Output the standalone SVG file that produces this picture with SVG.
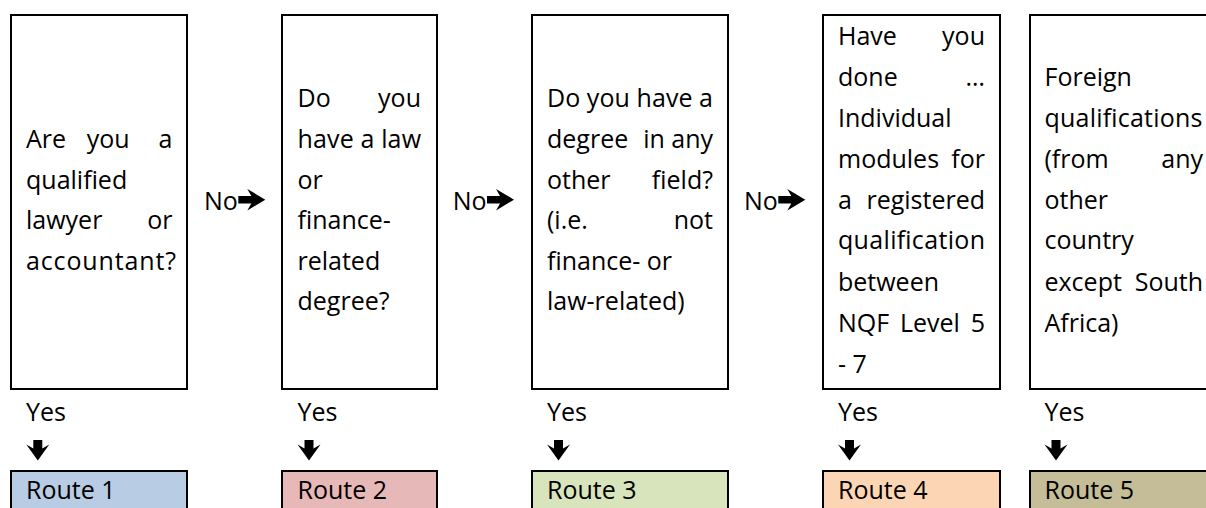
<svg xmlns="http://www.w3.org/2000/svg" width="1206" height="508" viewBox="0 0 1206 508">
<defs>
<style>
text{font-family:"Open Sans","Noto Sans","Liberation Sans",sans-serif;font-size:25px;fill:#000}
.e{text-anchor:end}
.box{fill:#fff;stroke:#000;stroke-width:2}
.route{stroke:#000;stroke-width:2}
.arr{fill:#000}
</style>
<path id="ra" d="M0,-3.8 L13,-3.8 L9,-10.8 L27,0 L9,10.8 L13,3.8 L0,3.8 Z"/>
<path id="da" d="M-4.5,0 L4.5,0 L4.5,8.5 L11.5,4.5 L0,20.5 L-11.5,4.5 L-4.5,8.5 Z"/>
</defs>
<rect width="1206" height="508" fill="#fff"/>

<g id="q1">
<rect class="box" x="11" y="15" width="176" height="374"/>
<text x="26" y="148">Are</text><text x="86.7" y="148">you</text><text class="e" x="172.5" y="148">a</text>
<text x="26" y="188.5">qualified</text>
<text x="26" y="229">lawyer</text><text class="e" x="172.5" y="229">or</text>
<text x="26" y="269.5" textLength="150" lengthAdjust="spacing">accountant?</text>
</g>

<g id="q2">
<rect class="box" x="282" y="15" width="155" height="374"/>
<text x="297.5" y="107.3">Do</text><text class="e" x="421" y="107.3">you</text>
<text x="297.5" y="147.9" textLength="123.5" lengthAdjust="spacing">have a law</text>
<text x="297.5" y="188.5">or</text>
<text x="297.5" y="229.1">finance-</text>
<text x="297.5" y="269.7">related</text>
<text x="297.5" y="310.3">degree?</text>
</g>

<g id="q3">
<rect class="box" x="532" y="15" width="196" height="374"/>
<text x="547" y="107.3" textLength="166" lengthAdjust="spacing">Do you have a</text>
<text x="547" y="147.9">degree</text><text x="643.3" y="147.9">in</text><text class="e" x="713" y="147.9">any</text>
<text x="547" y="188.5">other</text><text class="e" x="713" y="188.5">field?</text>
<text x="547" y="229.1">(i.e.</text><text class="e" x="713" y="229.1">not</text>
<text x="547" y="269.7">finance- or</text>
<text x="547" y="310.3">law-related)</text>
</g>

<g id="q4">
<rect class="box" x="823" y="15" width="177" height="374"/>
<text x="838" y="45">Have</text><text class="e" x="985" y="45">you</text>
<text x="838" y="86">done</text><text class="e" x="985" y="86">…</text>
<text x="838" y="126.7">Individual</text>
<text x="838" y="167.5">modules</text><text class="e" x="985" y="167.5">for</text>
<text x="838" y="208.5">a</text><text class="e" x="985" y="208.5">registered</text>
<text x="838" y="249" textLength="147" lengthAdjust="spacing">qualification</text>
<text x="838" y="290.5">between</text>
<text x="838" y="332">NQF</text><text x="900" y="332">Level</text><text class="e" x="985" y="332">5</text>
<text x="838" y="373">- 7</text>
</g>

<g id="q5">
<rect class="box" x="1030" y="15" width="178" height="374"/>
<text x="1044.5" y="86">Foreign</text>
<text x="1044.5" y="126.7" textLength="158" lengthAdjust="spacing">qualifications</text>
<text x="1044.5" y="167.5">(from</text><text class="e" x="1203" y="167.5">any</text>
<text x="1044.5" y="208.5">other</text>
<text x="1044.5" y="249">country</text>
<text x="1044.5" y="290.5">except</text><text class="e" x="1203" y="290.5">South</text>
<text x="1044.5" y="332">Africa)</text>
</g>

<g id="r1"><rect class="route" x="11" y="471" width="176" height="60" fill="#B8CCE4"/><text x="26" y="499.3">Route 1</text></g>
<g id="r2"><rect class="route" x="282" y="471" width="155" height="60" fill="#E6B8B7"/><text x="297.5" y="499.3">Route 2</text></g>
<g id="r3"><rect class="route" x="532" y="471" width="196" height="60" fill="#D7E4BC"/><text x="547" y="499.3">Route 3</text></g>
<g id="r4"><rect class="route" x="823" y="471" width="177" height="60" fill="#FCD5B4"/><text x="838" y="499.3">Route 4</text></g>
<g id="r5"><rect class="route" x="1030" y="471" width="178" height="60" fill="#C4BD97"/><text x="1044.5" y="499.3">Route 5</text></g>

<g id="connectors">
<text x="204" y="210">No</text><use href="#ra" class="arr" transform="translate(238.3,199.7)"/>
<text x="452.7" y="210">No</text><use href="#ra" class="arr" transform="translate(487,199.7)"/>
<text x="744" y="210">No</text><use href="#ra" class="arr" transform="translate(778.3,199.7)"/>
<text x="26" y="420.7">Yes</text><use href="#da" class="arr" transform="translate(37.8,440)"/>
<text x="297.5" y="420.7">Yes</text><use href="#da" class="arr" transform="translate(309,440)"/>
<text x="547" y="420.7">Yes</text><use href="#da" class="arr" transform="translate(558.5,440)"/>
<text x="838" y="420.7">Yes</text><use href="#da" class="arr" transform="translate(849.5,440)"/>
<text x="1044.5" y="420.7">Yes</text><use href="#da" class="arr" transform="translate(1056,440)"/>
</g>
</svg>
